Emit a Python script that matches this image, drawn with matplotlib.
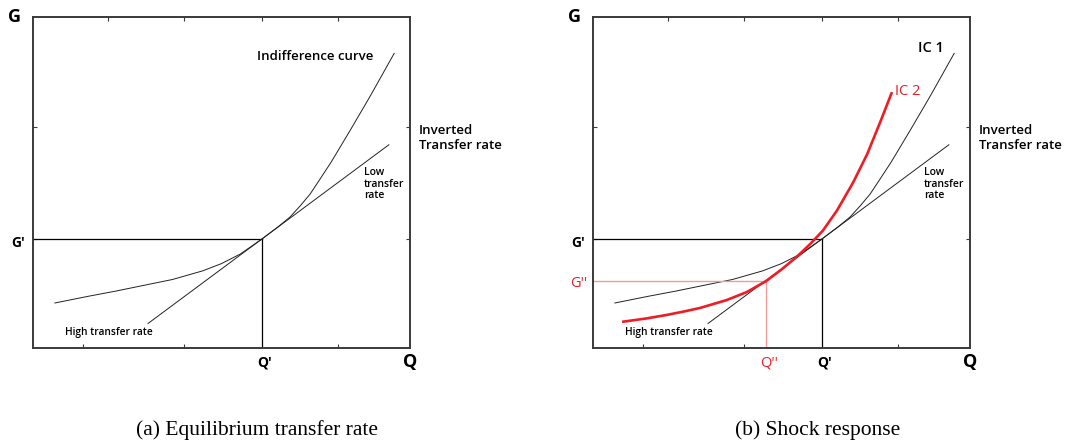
import matplotlib
matplotlib.use("Agg")
import matplotlib.pyplot as plt

# ---- data (axis units 0..10) ----
ic1_x = [0.58, 1.5, 2.2, 2.8, 3.7, 4.5, 5.0, 5.5, 6.07, 6.5, 6.82, 7.1, 7.35, 7.6, 7.9, 8.4, 8.95, 9.58]
ic1_y = [1.36, 1.57, 1.72, 1.86, 2.07, 2.33, 2.55, 2.84, 3.29, 3.66, 3.96, 4.31, 4.65, 5.08, 5.60, 6.55, 7.62, 8.90]

ic2_x = [0.77, 1.40, 1.96, 2.40, 2.84, 3.55, 4.08, 4.59, 5.01, 5.41, 5.76, 6.10, 6.47, 6.90, 7.27, 7.61, 7.93]
ic2_y = [0.79, 0.89, 1.00, 1.10, 1.21, 1.45, 1.69, 2.02, 2.38, 2.76, 3.14, 3.55, 4.15, 5.00, 5.85, 6.80, 7.73]

tangent_x = [3.05, 9.44]
tangent_y = [0.74, 6.14]

q1, g1 = 6.07, 3.29     # Q', G'
q2, g2 = 4.59, 2.02     # Q'', G''

top_ticks = [1.99, 4.0, 6.07, 8.09]
bottom_ticks = [1.33, 4.0, 8.09]
side_ticks = [3.29, 6.68]

captions = ["(a) Equilibrium transfer rate", "(b) Shock response"]

RED = "#ee1c25"
PINK = "#f39a9a"
FONT = "Open Sans"

fig = plt.figure(figsize=(10.69, 4.45), dpi=100)
ax_w, ax_h = 377 / 1069, 331 / 445
ax_b = 97 / 445
axes = [fig.add_axes([33 / 1069, ax_b, ax_w, ax_h]),
        fig.add_axes([593 / 1069, ax_b, ax_w, ax_h])]

for i, ax in enumerate(axes):
    ax.set_xlim(0, 10)
    ax.set_ylim(0, 10)
    for s in ax.spines.values():
        s.set_color("#3a3a3a")
        s.set_linewidth(1.4)
    ax.set_xticks(bottom_ticks)
    ax.set_yticks(side_ticks)
    ax.tick_params(direction="in", length=3, width=0.8, color="#3a3a3a",
                   top=False, right=True, labelbottom=False, labelleft=False)
    sec = ax.secondary_xaxis("top")
    sec.set_xticks(top_ticks)
    sec.tick_params(direction="in", length=3, width=0.8, color="#3a3a3a", labeltop=False)
    sec.spines["top"].set_visible(False)

    # G' / Q' guides
    ax.plot([0, q1], [g1, g1], color="black", lw=0.9)
    ax.plot([q1, q1], [0, g1], color="black", lw=0.9)

    # tangent line
    ax.plot(tangent_x, tangent_y, color="#222222", lw=0.7)
    # IC1
    ax.plot(ic1_x, ic1_y, color="#222222", lw=0.7)

    bold = dict(family=FONT, fontweight="bold", clip_on=False)
    semi = dict(family=FONT, fontweight="semibold", clip_on=False)
    ax.text(-0.48, 10.0, "G", fontsize=13, ha="center", va="center", **bold)
    ax.text(10.0, -0.42, "Q", fontsize=13, ha="center", va="center", **bold)
    ax.text(-0.40, 3.17, "G'", fontsize=10, ha="center", va="center", **bold)
    ax.text(6.15, -0.45, "Q'", fontsize=10, ha="center", va="center", **bold)
    ax.text(10.24, 6.34, "Inverted\nTransfer rate", fontsize=9.5, ha="left",
            va="center", linespacing=1.2, **semi)
    ax.text(8.78, 4.95, "Low\ntransfer\nrate", fontsize=7.5, ha="left",
            va="center", linespacing=1.1, **semi)
    ax.text(0.85, 0.48, "High transfer rate", fontsize=7.3, ha="left", va="center", **semi)

    if i == 0:
        ax.text(5.94, 8.82, "Indifference curve", fontsize=9.5, ha="left", va="center", **semi)
    else:
        ax.text(8.62, 9.06, "IC 1", fontsize=10.5, ha="left", va="center", **semi)
        ax.plot([0, q2], [g2, g2], color=PINK, lw=1.0)
        ax.plot([q2, q2], [0, g2], color=PINK, lw=1.0)
        ax.plot(ic2_x, ic2_y, color=RED, lw=1.9, solid_capstyle="butt",
                solid_joinstyle="round")
        ax.text(8.01, 7.76, "IC 2", fontsize=10.5, ha="left", va="center",
                family=FONT, color=RED, clip_on=False)
        ax.text(-0.37, 1.96, "G''", fontsize=10.5, ha="center", va="center",
                family=FONT, color=RED, clip_on=False)
        ax.text(4.67, -0.45, "Q''", fontsize=10.5, ha="center", va="center",
                family=FONT, color=RED, clip_on=False)

fig.text(257 / 1069, 1 - 430 / 445, captions[0], family="Liberation Serif",
         fontsize=15.5, ha="center", va="center")
fig.text(818 / 1069, 1 - 430 / 445, captions[1], family="Liberation Serif",
         fontsize=15.5, ha="center", va="center")

fig.savefig("out.png", dpi=100)
